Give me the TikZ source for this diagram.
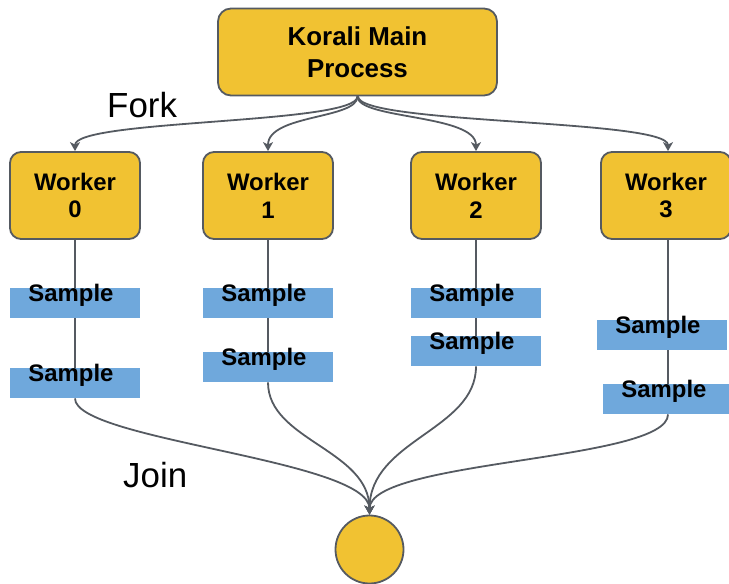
\documentclass[tikz,border=0pt]{standalone}
\usepackage{fontspec}
\setmainfont{Liberation Sans}
\usetikzlibrary{arrows.meta}
\definecolor{boxyellow}{HTML}{F1C232}
\definecolor{sampleblue}{HTML}{6FA8DC}
\definecolor{linegray}{HTML}{555A61}
\tikzset{
  mainbox/.style={draw=linegray, line width=1.8bp, fill=boxyellow, rounded corners=13bp,
    minimum width=279bp, minimum height=87bp, align=center, inner sep=0pt,
    font=\fontsize{26}{32}\selectfont\bfseries},
  workerbox/.style={draw=linegray, line width=1.8bp, fill=boxyellow, rounded corners=11bp,
    minimum width=130bp, minimum height=87bp, align=center, inner sep=0pt,
    font=\fontsize{24}{28}\selectfont\bfseries},
  samplebox/.style={fill=sampleblue, minimum width=130bp, inner sep=0pt,
    text height=13bp, text depth=17bp, font=\fontsize{24}{28}\selectfont\bfseries},
  joinnode/.style={circle, draw=linegray, line width=1.8bp, fill=boxyellow, minimum size=68bp, inner sep=0pt},
  conn/.style={draw=linegray, line width=1.8bp},
  arr/.style={conn, -{Stealth[length=9bp,width=10bp,inset=2.5bp]}},
  biglabel/.style={anchor=base west, inner sep=0pt, font=\fontsize{35}{40}\selectfont},
}
\begin{document}
\begin{tikzpicture}[x=1bp, y=-1bp]
\useasboundingbox (0,0) rectangle (729,584);

\node[mainbox] (main) at (357.5,52) {Korali Main\\Process};

\node[workerbox] (w0) at (75,195.5) {Worker\\0};
\node[workerbox] (w1) at (268,195.5) {Worker\\1};
\node[workerbox] (w2) at (476,195.5) {Worker\\2};
\node[workerbox] (w3) at (666,195.5) {Worker\\3};

\node[joinnode] (c) at (369.5,549.5) {};

\node[biglabel] (fork) at (107,118) {Fork};
\node[biglabel] (join) at (123,487) {Join};

% samples
\node[samplebox, anchor=north] (s0a) at (75,288) {Sample\hspace*{8bp}};
\node[samplebox, anchor=north] (s0b) at (75,368) {Sample\hspace*{8bp}};
\node[samplebox, anchor=north] (s1a) at (268,288) {Sample\hspace*{8bp}};
\node[samplebox, anchor=north] (s1b) at (268,352) {Sample\hspace*{8bp}};
\node[samplebox, anchor=north] (s2a) at (476,288) {Sample\hspace*{8bp}};
\node[samplebox, anchor=north] (s2b) at (476,336) {Sample\hspace*{8bp}};
\node[samplebox, anchor=north] (s3a) at (662,320) {Sample\hspace*{8bp}};
\node[samplebox, anchor=north] (s3b) at (668,384) {Sample\hspace*{8bp}};

% fork arrows
\draw[arr] (main.south) .. controls +(0,28) and +(0,-32) .. (w0.north);
\draw[arr] (main.south) .. controls +(0,23) and +(0,-37) .. (w1.north);
\draw[arr] (main.south) .. controls +(0,23) and +(0,-37) .. (w2.north);
\draw[arr] ([xshift=0.5bp]main.south) .. controls +(0,28) and +(0,-32) .. ([xshift=2bp]w3.north);

% worker lines
\draw[conn] (w0.south) -- (w0.south |- s0a.north);
\draw[conn] (w0.south |- s0a.south) -- (w0.south |- s0b.north);
\draw[arr] (w0.south |- s0b.south) .. controls +(0,42) and +(0,-55) .. (c.north);

\draw[conn] (w1.south) -- (w1.south |- s1a.north);
\draw[conn] (w1.south |- s1a.south) -- (w1.south |- s1b.north);
\draw[arr] (w1.south |- s1b.south) .. controls +(0,58) and +(0,-65) .. (c.north);

\draw[conn] (w2.south) -- (w2.south |- s2a.north);
\draw[conn] (w2.south |- s2a.south) -- (w2.south |- s2b.north);
\draw[arr] (w2.south |- s2b.south) .. controls +(0,64) and +(0,-75) .. (c.north);

\draw[conn] ([xshift=2bp]w3.south) -- ([xshift=2bp]w3.south |- s3a.north);
\draw[conn] ([xshift=2bp]w3.south |- s3a.south) -- ([xshift=2bp]w3.south |- s3b.north);
\draw[arr] ([xshift=2bp]w3.south |- s3b.south) .. controls +(0,47) and +(0,-55) .. (c.north);
\end{tikzpicture}
\end{document}
